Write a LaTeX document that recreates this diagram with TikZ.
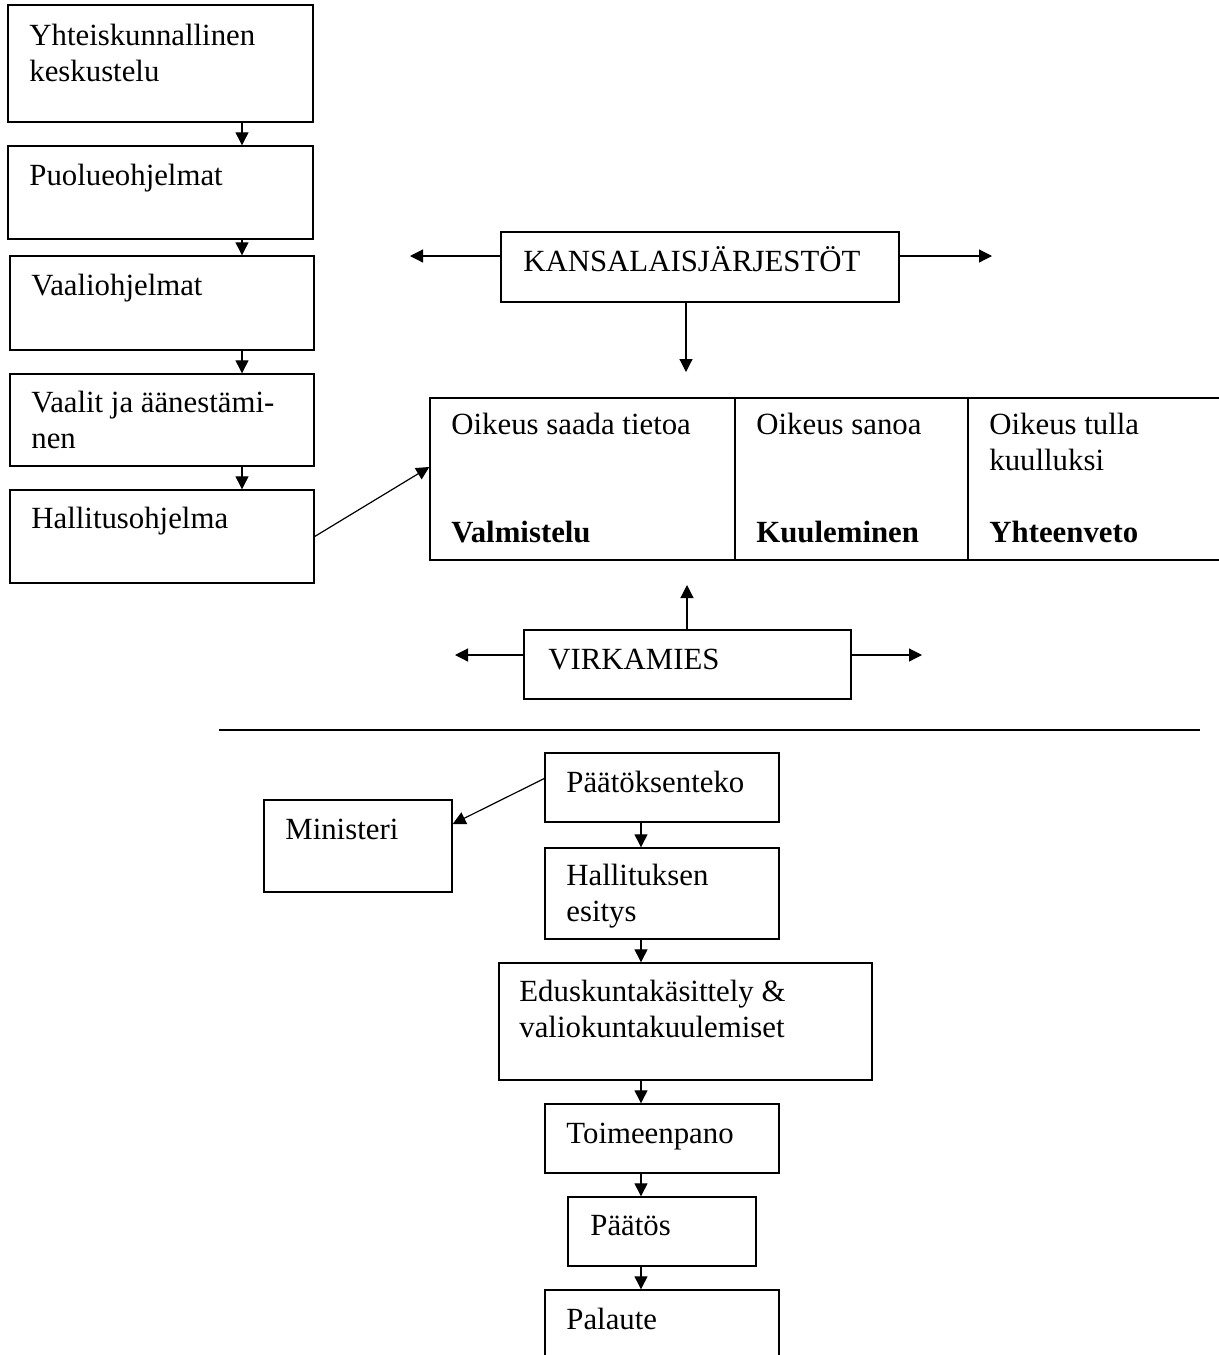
\documentclass[tikz,border=0pt]{standalone}
\usepackage{fontspec}
\setmainfont{Liberation Serif}
\usetikzlibrary{arrows.meta,fit}
\newcommand\twolines[2]{\vtop{\hbox{#1}\hbox{#2}}}
\begin{document}
\begin{tikzpicture}[x=0.5pt,y=-0.5pt,
  box/.style={draw, line width=0.7pt, inner sep=0pt},
  txt/.style={anchor=base west, inner sep=0pt, font=\fontsize{15.4}{18.3}\selectfont},
  bld/.style={txt, font=\fontsize{15.4}{18.3}\selectfont\bfseries},
  arr/.style={line width=0.6pt, -{Triangle[length=6.5pt,width=6.5pt]}},
  sep/.style={line width=0.7pt}]
\useasboundingbox (0,0) rectangle (1219,1355);
\clip (0,0) rectangle (1219,1355);

% left column
\node[box, fit={(8,5)(313,122)}] (b1) {};
\node[txt] (t1) at (29,45) {\twolines{Yhteiskunnallinen}{keskustelu}};
\node[box, fit={(8,146)(313,239)}] (b2) {};
\node[txt] (t2) at (29,185) {Puolueohjelmat};
\node[box, fit={(10,256)(314,350)}] (b3) {};
\node[txt] (t3) at (31,295) {Vaaliohjelmat};
\node[box, fit={(10,374)(314,466)}] (b4) {};
\node[txt] (t4) at (31,412) {\twolines{Vaalit ja äänestämi-}{nen}};
\node[box, fit={(10,490)(314,583)}] (b5) {};
\node[txt] (t5) at (31,528) {Hallitusohjelma};
\coordinate (cx) at (242,0);
\draw[arr] (b1.south -| cx) -- (b2.north -| cx);
\draw[arr] (b2.south -| cx) -- (b3.north -| cx);
\draw[arr] (b3.south -| cx) -- (b4.north -| cx);
\draw[arr] (b4.south -| cx) -- (b5.north -| cx);

% Kansalaisjarjestot
\node[box, fit={(501,232)(899,302)}] (k) {};
\node[txt] (kt) at (523,271) {KANSALAISJÄRJESTÖT};
\coordinate (kl) at (410,256);
\coordinate (kr) at (992,256);
\coordinate (kd) at (686,372);
\draw[arr] (k.west |- kl) -- (kl);
\draw[arr] (k.east |- kr) -- (kr);
\draw[arr] (k.south -| kd) -- (kd);

% table
\node[box, fit={(430,398)(735,560)}] (c1) {};
\node[box, fit={(735,398)(968,560)}] (c2) {};
\node[box, fit={(968,398)(1221,560)}] (c3) {};
\node[txt] (c1a) at (451,434) {Oikeus saada tietoa};
\node[bld] (c1b) at (451,542) {Valmistelu};
\node[txt] (c2a) at (756,434) {Oikeus sanoa};
\node[bld] (c2b) at (756,542) {Kuuleminen};
\node[txt] (c3a) at (989,434) {\twolines{Oikeus tulla}{kuulluksi}};
\node[bld] (c3b) at (989,542) {Yhteenveto};
\draw[arr] (b5.east) -- ([yshift=6pt]c1.west);

% Virkamies
\node[box, fit={(524,630)(851,699)}] (v) {};
\node[txt] (vt) at (548,669) {VIRKAMIES};
\coordinate (vl) at (455,655);
\coordinate (vr) at (922,655);
\coordinate (vu) at (687,585);
\draw[arr] (v.west |- vl) -- (vl);
\draw[arr] (v.east |- vr) -- (vr);
\draw[arr] (v.north -| vu) -- (vu);

% separator
\coordinate (s1) at (219,730);
\coordinate (s2) at (1200,730);
\draw[sep] (s1) -- (s2);

% bottom column
\node[box, fit={(545,753)(779,822)}] (p1) {};
\node[txt] (p1t) at (566,792) {Päätöksenteko};
\node[box, fit={(264,800)(452,892)}] (m) {};
\node[txt] (mt) at (285,839) {Ministeri};
\node[box, fit={(545,848)(779,939)}] (p2) {};
\node[txt] (p2t) at (566,885) {\twolines{Hallituksen}{esitys}};
\node[box, fit={(499,963)(872,1080)}] (p3) {};
\node[txt] (p3t) at (519,1001) {\twolines{Eduskuntakäsittely \&}{valiokuntakuulemiset}};
\node[box, fit={(545,1104)(779,1173)}] (p4) {};
\node[txt] (p4t) at (566,1143) {Toimeenpano};
\node[box, fit={(568,1197)(756,1266)}] (p5) {};
\node[txt] (p5t) at (590,1235) {Päätös};
\node[box, fit={(545,1290)(779,1380)}] (p6) {};
\node[txt] (p6t) at (566,1329) {Palaute};
\coordinate (cy) at (641,0);
\draw[arr] ([yshift=4.5pt]p1.west) -- ([yshift=11pt]m.east);
\draw[arr] (p1.south -| cy) -- (p2.north -| cy);
\draw[arr] (p2.south -| cy) -- (p3.north -| cy);
\draw[arr] (p3.south -| cy) -- (p4.north -| cy);
\draw[arr] (p4.south -| cy) -- (p5.north -| cy);
\draw[arr] (p5.south -| cy) -- (p6.north -| cy);
\end{tikzpicture}
\end{document}
